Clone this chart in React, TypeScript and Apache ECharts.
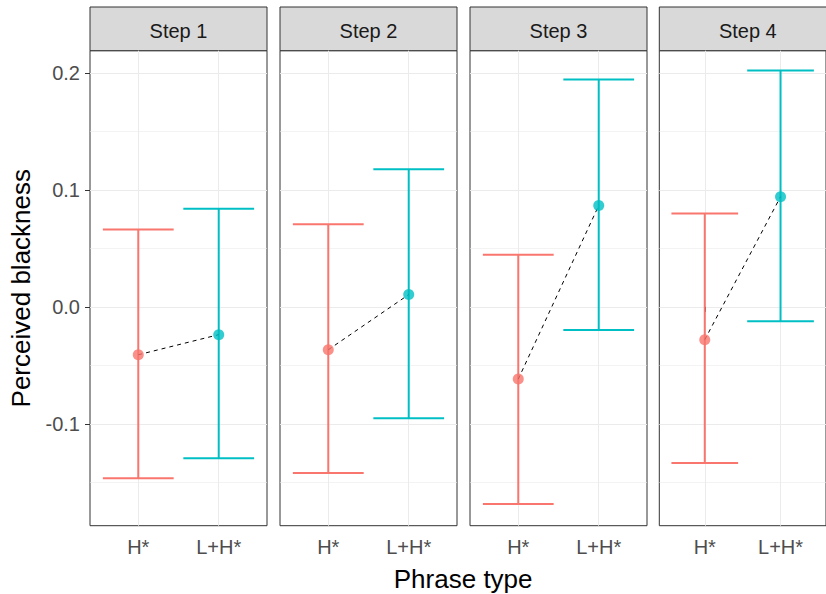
import React, { useEffect, useRef } from 'react';
import * as echarts from 'echarts';

const steps = ['Step 1', 'Step 2', 'Step 3', 'Step 4'];
const phraseTypes = ['H*', 'L+H*'];
const hMean = [-0.041, -0.0367, -0.0618, -0.0281];
const hLower = [-0.1466, -0.1421, -0.1686, -0.1335];
const hUpper = [0.0662, 0.0707, 0.0445, 0.0799];
const lhMean = [-0.0238, 0.0105, 0.0867, 0.0942];
const lhLower = [-0.1295, -0.0952, -0.0198, -0.0124];
const lhUpper = [0.0839, 0.1176, 0.1944, 0.2021];
const yTicks = [-0.1, 0, 0.1, 0.2];
const yMinorTicks = [-0.15, -0.05, 0.05, 0.15];
const yTickLabels = ['-0.1', '0.0', '0.1', '0.2'];

const COLORS = ['#F8766D', '#00BFC4'];
const FONT = '"Liberation Sans", Arial, sans-serif';

export default function App() {
  const ref = useRef<HTMLDivElement>(null);
  useEffect(() => {
    const chart = echarts.init(ref.current!, null, { renderer: 'svg' });
    const panelLefts = [90, 280, 470, 659.3];
    const panelWidth = 177;
    const top = 50.7;
    const height = 475;
    const yMin = -0.1872;
    const yMax = 0.2191;
    const capHalf = 0.44;

    const grids: any[] = [];
    const xAxes: any[] = [];
    const yAxes: any[] = [];
    const series: any[] = [];
    const graphics: any[] = [];

    steps.forEach((step, i) => {
      grids.push({
        left: panelLefts[i], top, width: panelWidth, height,
        show: true, borderColor: '#333333', borderWidth: 1, backgroundColor: 'transparent',
      });
      xAxes.push({
        type: 'value', gridIndex: i, min: 0.4, max: 2.6,
        axisLine: { show: false },
        axisTick: { show: true, length: 5, lineStyle: { color: '#333333', width: 1 }, customValues: [1, 2] },
        axisLabel: {
          show: true, customValues: [1, 2], margin: 11,
          fontSize: 20, color: '#4D4D4D', fontFamily: FONT,
          formatter: (v: number) => phraseTypes[Math.round(v) - 1] ?? '',
        },
        splitLine: { show: true, lineStyle: { color: '#EBEBEB', width: 1 } },
      });
      yAxes.push({
        type: 'value', gridIndex: i, min: yMin, max: yMax,
        axisLine: { show: false },
        axisTick: { show: i === 0, length: 5, lineStyle: { color: '#333333', width: 1 }, customValues: yTicks },
        axisLabel: {
          show: i === 0, customValues: yTicks, margin: 10,
          fontSize: 20, color: '#4D4D4D', fontFamily: FONT,
          formatter: (v: number) => {
            const k = yTicks.findIndex((t) => Math.abs(t - v) < 1e-6);
            return k >= 0 ? yTickLabels[k] : '';
          },
        },
        splitLine: { show: true, lineStyle: { color: '#EBEBEB', width: 1 } },
      });
      yAxes.push({
        type: 'value', gridIndex: i, min: yMin, max: yMax,
        axisLine: { show: false },
        axisTick: { show: false, customValues: yMinorTicks },
        axisLabel: { show: false, customValues: yMinorTicks },
        splitLine: { show: true, lineStyle: { color: '#EBEBEB', width: 0.6 } },
      });

      const yIdx = i * 2;
      series.push({
        type: 'custom',
        xAxisIndex: i, yAxisIndex: yIdx,
        encode: { x: 0, y: [1, 2] },
        data: [
          [1, hLower[i], hUpper[i], 0],
          [2, lhLower[i], lhUpper[i], 1],
        ],
        renderItem: (params: any, api: any) => {
          const x = api.value(0);
          const lo = api.value(1);
          const hi = api.value(2);
          const ci = api.value(3);
          const pLo = api.coord([x, lo]);
          const pHi = api.coord([x, hi]);
          const cl = api.coord([x - capHalf, hi])[0];
          const cr = api.coord([x + capHalf, hi])[0];
          const style = { stroke: COLORS[ci], lineWidth: 2, fill: 'none' };
          return {
            type: 'group',
            children: [
              { type: 'line', shape: { x1: pLo[0], y1: pLo[1], x2: pHi[0], y2: pHi[1] }, style },
              { type: 'line', shape: { x1: cl, y1: pHi[1], x2: cr, y2: pHi[1] }, style },
              { type: 'line', shape: { x1: cl, y1: pLo[1], x2: cr, y2: pLo[1] }, style },
            ],
          };
        },
      });
      series.push({
        type: 'line',
        xAxisIndex: i, yAxisIndex: yIdx,
        data: [[1, hMean[i]], [2, lhMean[i]]],
        symbol: 'none',
        lineStyle: { color: '#000000', width: 1, type: [4, 4] },
        z: 3,
      });
      series.push({
        type: 'scatter',
        xAxisIndex: i, yAxisIndex: yIdx,
        symbolSize: 11,
        data: [
          { value: [1, hMean[i]], itemStyle: { color: COLORS[0] } },
          { value: [2, lhMean[i]], itemStyle: { color: COLORS[1] } },
        ],
        z: 4,
      });

      graphics.push({
        type: 'rect',
        shape: { x: panelLefts[i], y: 7, width: panelWidth, height: top - 7 },
        style: { fill: '#D9D9D9', stroke: '#333333', lineWidth: 1 },
      });
      graphics.push({
        type: 'text',
        x: panelLefts[i] + panelWidth / 2,
        y: 30.5,
        style: {
          text: step, fontSize: 20, fontFamily: FONT, fill: '#1A1A1A',
          align: 'center', verticalAlign: 'middle',
        },
      });
    });

    graphics.push({
      type: 'text',
      x: 21, y: top + height / 2,
      rotation: Math.PI / 2,
      style: {
        text: 'Perceived blackness', fontSize: 26, fontFamily: FONT, fill: '#000000',
        align: 'center', verticalAlign: 'middle',
      },
    });
    graphics.push({
      type: 'text',
      x: panelLefts[0] + (panelLefts[3] + panelWidth - panelLefts[0]) / 2, y: 579,
      style: {
        text: 'Phrase type', fontSize: 26, fontFamily: FONT, fill: '#000000',
        align: 'center', verticalAlign: 'middle',
      },
    });

    chart.setOption({
      animation: false,
      backgroundColor: '#FFFFFF',
      grid: grids,
      xAxis: xAxes,
      yAxis: yAxes,
      series,
      graphic: graphics,
    });
    return () => chart.dispose();
  }, []);
  return <div ref={ref} style={{ position: 'absolute', left: 0, top: 0, width: 826, height: 594 }} />;
}
